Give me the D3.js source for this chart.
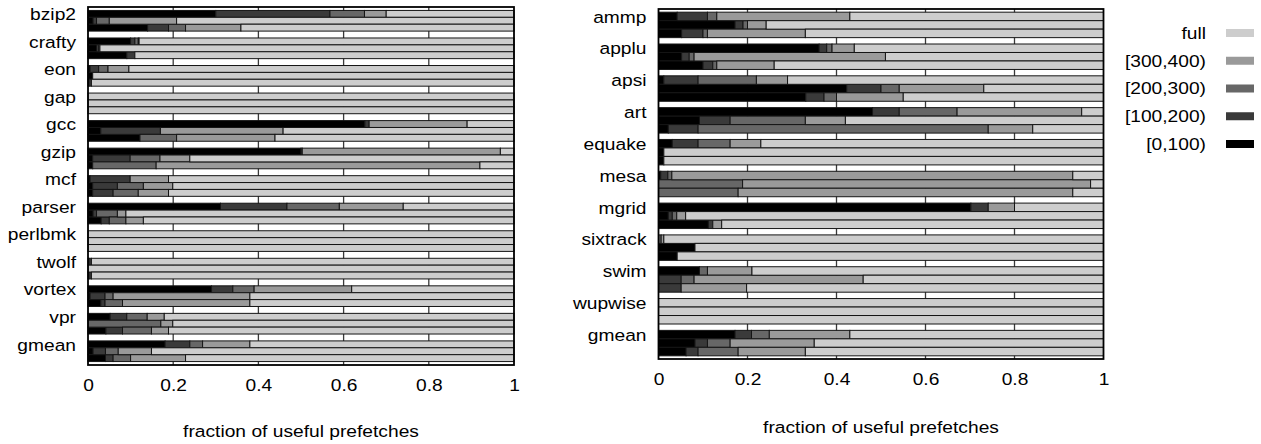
<!DOCTYPE html>
<html>
<head>
<meta charset="utf-8">
<script src="https://cdn.jsdelivr.net/npm/d3@7"></script>
<style>
  html, body { margin: 0; padding: 0; background: #fff; }
  svg { display: block; }
</style>
</head>
<body>
<svg id="chart" width="1261" height="444"></svg>
<script>
// ---------------- DATA ----------------
const intBenchmarks = ["bzip2","crafty","eon","gap","gcc","gzip","mcf","parser","perlbmk","twolf","vortex","vpr","gmean"];
const fpBenchmarks  = ["ammp","applu","apsi","art","equake","mesa","mgrid","sixtrack","swim","wupwise","gmean"];
const binLabels = ["[0,100)","[100,200)","[200,300)","[300,400)","full"];
const xTicks = [0, 0.2, 0.4, 0.6, 0.8, 1];
const axisTitle = "fraction of useful prefetches";

// each entry: the three bars of one benchmark
const intBin0 = [[0.30,0.012,0.14],[0.10,0.02,0.091],[0.005,0.011,0.002],[0,0,0],[0.65,0.03,0.122],[0.50,0.011,0.011],[0.005,0.011,0.011],[0.311,0.012,0.031],[0,0,0],[0.002,0,0.002],[0.29,0.005,0.03],[0.052,0,0.042],[0.181,0.012,0.041]];
const intBin1 = [[0.268,0.008,0.049],[0.01,0.005,0.019],[0.02,0,0.006],[0,0,0],[0.01,0.14,0],[0.003,0.088,0],[0.094,0.058,0.048],[0.156,0.008,0.019],[0,0,0],[0.006,0,0.006],[0.05,0.035,0.01],[0.039,0,0.039],[0.058,0.029,0.018]];
const intBin2 = [[0.081,0.03,0.04],[0.008,0.003,0],[0.022,0,0],[0,0,0],[0,0,0.086],[0,0.07,0.149],[0,0.061,0.059],[0.123,0.049,0.039],[0,0,0],[0,0,0],[0.05,0.019,0.041],[0.048,0.171,0.068],[0.03,0.03,0.041]];
const intBin3 = [[0.051,0.158,0.13],[0.002,0,0],[0.049,0,0],[0,0,0],[0.23,0.288,0.231],[0.465,0.07,0.76],[0.09,0.069,0.071],[0.15,0.02,0.041],[0,0,0],[0,0,0],[0.229,0.321,0.299],[0.04,0.028,0.04],[0.111,0.078,0.129]];
const intFull = [[0.30,0.792,0.641],[0.88,0.972,0.89],[0.904,0.989,0.992],[1,1,1],[0.11,0.542,0.561],[0.032,0.761,0.08],[0.811,0.801,0.811],[0.26,0.911,0.87],[1,1,1],[0.992,1,0.992],[0.381,0.62,0.62],[0.821,0.801,0.811],[0.62,0.851,0.771]];

const fpBin0 = [[0.042,0.172,0.052],[0.361,0.052,0.10],[0.012,0.423,0.331],[0.481,0.092,0.022],[0.031,0.012,0.012],[0.005,0,0],[0.702,0.022,0.112],[0,0.082,0.042],[0.092,0,0],[0,0,0],[0.172,0.082,0.062]];
const fpBin1 = [[0.068,0.018,0.048],[0.017,0.017,0.022],[0.077,0.077,0.041],[0.06,0.069,0.067],[0.058,0,0],[0.016,0,0],[0.039,0.009,0.01],[0,0,0],[0,0.051,0.051],[0,0,0],[0.037,0.028,0.027]];
const fpBin2 = [[0.021,0.01,0.01],[0.012,0.011,0.009],[0.131,0.041,0.028],[0.13,0.169,0.652],[0.072,0,0],[0.009,0.189,0.179],[0,0.01,0],[0.006,0,0],[0.018,0.029,0],[0,0,0],[0.04,0.051,0.09]];
const fpBin3 = [[0.299,0.042,0.22],[0.05,0.43,0.129],[0.07,0.19,0.15],[0.28,0.09,0.10],[0.069,0,0],[0.901,0.782,0.752],[0.059,0.02,0.02],[0.006,0,0],[0.10,0.38,0.147],[0,0,0],[0.181,0.189,0.151]];
const fpFull = [[0.57,0.758,0.67],[0.56,0.49,0.74],[0.71,0.269,0.45],[0.049,0.58,0.159],[0.77,0.988,0.988],[0.069,0.029,0.069],[0.20,0.939,0.858],[0.988,0.918,0.958],[0.79,0.54,0.802],[1,1,1],[0.57,0.65,0.67]];

// ---------------- STYLE ----------------
const binColors = ["#000000","#3a3a3a","#676767","#9a9a9a","#cdcdcd"];
const FONT = "'Liberation Sans', Arial, Helvetica, sans-serif";
const FS = 17;         // font size
const SX = 1.13;       // horizontal stretch of text in the reference

const svg = d3.select("#chart");
const keys = ["b0","b1","b2","b3","full"];

function drawPanel(cats, series, cfg) {
  const x = d3.scaleLinear().domain([0, 1]).range([cfg.x0, cfg.x1]);
  const yG = d3.scaleBand().domain(cats).range([cfg.y0, cfg.y1])
    .paddingInner(cfg.pad).paddingOuter(cfg.pad / 2);
  const yB = d3.scaleBand().domain([0, 1, 2]).range([0, yG.bandwidth()]);

  const rows = [];
  cats.forEach((c, i) => {
    for (let j = 0; j < 3; j++) {
      const r = { cat: c, j: j };
      keys.forEach((k, s) => r[k] = series[s][i][j]);
      rows.push(r);
    }
  });
  const stacked = d3.stack().keys(keys)(rows);

  const g = svg.append("g");

  // vertical grid lines (visible in the gaps)
  g.append("g").selectAll("line").data(xTicks.slice(1, -1)).join("line")
    .attr("x1", d => x(d)).attr("x2", d => x(d))
    .attr("y1", cfg.y0).attr("y2", cfg.y1)
    .attr("stroke", "#3a3a3a").attr("stroke-width", 1.3);

  // stacked bars
  g.append("g").selectAll("g").data(stacked).join("g")
    .attr("fill", (d, i) => binColors[i])
    .selectAll("rect").data(d => d).join("rect")
    .attr("x", d => x(d[0]))
    .attr("width", d => Math.max(0, x(d[1]) - x(d[0])))
    .attr("y", d => yG(d.data.cat) + yB(d.data.j))
    .attr("height", yB.bandwidth())
    .attr("stroke", d => (d[1] - d[0]) > 0 ? "#151515" : "none")
    .attr("stroke-width", 1);

  // frame
  g.append("rect")
    .attr("x", cfg.x0).attr("y", cfg.y0)
    .attr("width", cfg.x1 - cfg.x0).attr("height", cfg.y1 - cfg.y0)
    .attr("fill", "none").attr("stroke", "#000").attr("stroke-width", 1.8);

  // x axis tick labels
  const xAxis = d3.axisBottom(x).tickValues(xTicks).tickFormat(d3.format("")).tickSize(0).tickPadding(14);
  const ax = g.append("g").attr("transform", `translate(0,${cfg.y1})`).call(xAxis);
  ax.select(".domain").remove();
  ax.selectAll("text")
    .attr("font-family", FONT).attr("font-size", FS).attr("fill", "#000")
    .attr("transform", `scale(${SX},1)`);

  // category labels
  const yAxis = d3.axisLeft(yG).tickSize(0).tickPadding(12 / SX);
  const ay = g.append("g").attr("transform", `translate(${cfg.x0},0)`).call(yAxis);
  ay.select(".domain").remove();
  const off = -(yG.bandwidth() / 2 - yB.bandwidth() / 2) + 0.4;
  ay.selectAll("text")
    .attr("font-family", FONT).attr("font-size", FS).attr("fill", "#000")
    .attr("dy", "0.34em")
    .attr("y", off)
    .attr("transform", `scale(${SX},1)`);

  // axis title
  g.append("text")
    .attr("transform", `translate(${(cfg.x0 + cfg.x1) / 2},${cfg.titleY}) scale(${SX},1)`)
    .attr("text-anchor", "middle")
    .attr("font-family", FONT).attr("font-size", FS).attr("fill", "#000")
    .text(axisTitle);
}

drawPanel(intBenchmarks, [intBin0, intBin1, intBin2, intBin3, intFull],
  { x0: 88, x1: 514, y0: 7, y1: 365, pad: 0.25, titleY: 437 });
drawPanel(fpBenchmarks, [fpBin0, fpBin1, fpBin2, fpBin3, fpFull],
  { x0: 658.5, x1: 1103.5, y0: 9, y1: 359, pad: 0.2, titleY: 433 });

// legend (top entry = full)
const legendOrder = binLabels.map((l, i) => ({ label: l, color: binColors[i] })).reverse();
const ly = d3.scalePoint().domain(legendOrder.map(d => d.label)).range([33, 144]);
const lg = svg.append("g");
lg.selectAll("rect").data(legendOrder).join("rect")
  .attr("x", 1226).attr("width", 28)
  .attr("y", d => ly(d.label) - 4).attr("height", 8)
  .attr("fill", d => d.color);
lg.selectAll("text").data(legendOrder).join("text")
  .attr("transform", d => `translate(1206,${ly(d.label)}) scale(${SX},1)`)
  .attr("dy", "0.35em")
  .attr("text-anchor", "end")
  .attr("font-family", FONT).attr("font-size", FS).attr("fill", "#000")
  .text(d => d.label);
</script>
</body>
</html>
